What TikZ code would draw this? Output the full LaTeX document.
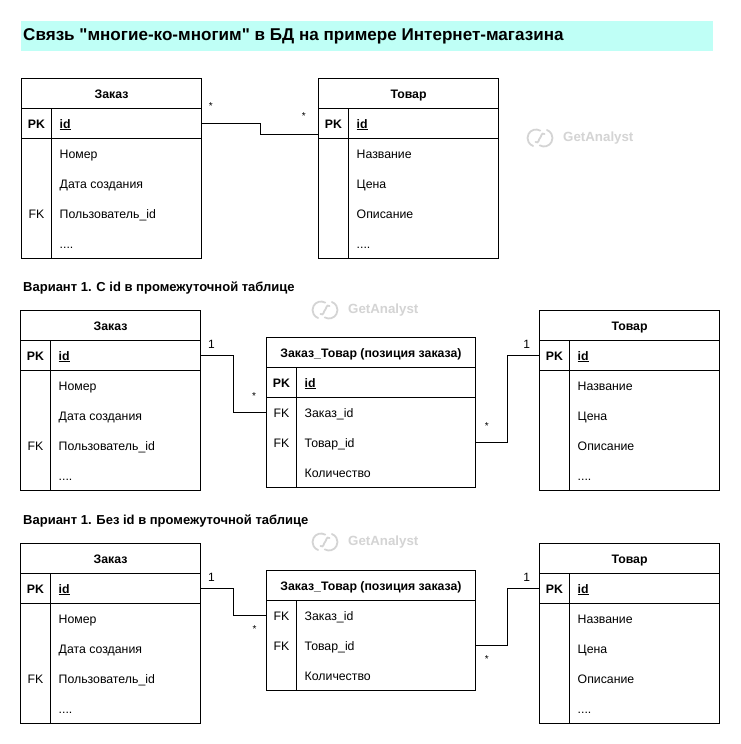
\documentclass[tikz,border=0pt]{standalone}
\usepackage{fontspec}
\setmainfont{Liberation Sans}
\newfontfamily\titlefont{Liberation Sans}
\usepackage{tikz}

\definecolor{titlefill}{HTML}{BFFFF6}
\definecolor{markgray}{HTML}{D4D4D4}

\newcommand{\pkkey}{\textbf{PK}}
\newcommand{\pkid}{\textbf{\underline{id}}}
\newcommand{\moredots}{....}

% name, x, y, width, height, rules, title, rows
\newcommand{\dbtable}[8]{
  \node [tablebox,minimum width=#4pt,minimum height=#5pt] (#1) at (#2,#3) {};
  \node [headcell] (#1-cap) at (#2+#4/2,#3+15) {#7};
  \foreach \rr in {#6} \draw [line width=1pt] (#2,#3+\rr) -- ++(#4,0);
  \draw [line width=1pt] (#2+30,#3+30) -- (#2+30,#3+#5);
  \foreach \kk/\vv [count=\i] in {#8} {
    \node [keycell] (#1-k\i) at (#2+15,#3+15+30*\i) {\kk};
    \node [textcell] (#1-t\i) at (#2+38,#3+15+30*\i) {\vv};
  }
}

% name, x, y of the left edge of the icon
\newcommand{\getmark}[3]{
  \draw [markgray,line width=1.8pt,line cap=round]
    (#2+9,#3) ++(-60:8.5) arc (-60:-250:8.5)
    (#2+17,#3) ++(120:8.5) arc (120:-70:8.5)
    (#2+8.5,#3+4) .. controls (#2+12,#3+6) and (#2+11.5,#3+1) .. (#2+13,#3)
    .. controls (#2+14.5,#3-1) and (#2+14,#3-6) .. (#2+17.5,#3-4);
  \node [markname] (#1) at (#2+36,#3) {GetAnalyst};
}

\begin{document}
\begin{tikzpicture}[x=1pt,y=-1pt,
    tablebox/.style={draw,line width=1pt,inner sep=0,outer sep=0,anchor=north west},
    headcell/.style={font=\fontsize{12.3}{14}\selectfont\bfseries,inner sep=0,text height=9pt,text depth=0pt},
    keycell/.style={font=\fontsize{12.3}{14}\selectfont,inner sep=0,text height=9pt,text depth=0pt},
    textcell/.style={font=\fontsize{12.3}{14}\selectfont,inner sep=0,text height=9pt,text depth=0pt,anchor=west},
    relation/.style={line width=1pt},
    onemark/.style={font=\fontsize{12}{14}\selectfont,inner sep=0},
    starmark/.style={font=\fontsize{10}{12}\selectfont,inner sep=0},
    sectionhead/.style={font=\fontsize{13}{14}\selectfont\bfseries,inner sep=0,text height=9pt,text depth=0pt,anchor=west},
    markname/.style={font=\fontsize{13.3}{14}\selectfont\bfseries,text=markgray,inner sep=0,anchor=west}]

  \useasboundingbox (0,0) rectangle (741,744);
  \fill [white] (0,0) rectangle (741,744);

  \node [fill=titlefill,minimum width=692pt,minimum height=30pt,inner sep=0,anchor=north west] (titlebar) at (21,20.5) {};
  \node [font=\titlefont\fontsize{17.07}{19}\selectfont\bfseries,inner sep=0,text height=12pt,text depth=0pt,anchor=west] (titletext) at (23,34.3) {Связь "многие-ко-многим" в БД на примере Интернет-магазина};

  \node [sectionhead] (variantwith) at (23,287) {Вариант 1. С id в промежуточной таблице};
  \node [sectionhead] (variantwithout) at (23,519.5) {Вариант 1. Без id в промежуточной таблице};

  \getmark{marktop}{527}{138}
  \getmark{markmid}{312}{310}
  \getmark{marklow}{312}{542}

  % first pair
  \dbtable{zakaztop}{21.5}{78.5}{180}{180}{30,60}{Заказ}{\pkkey/\pkid,/Номер,/Дата создания,FK/Пользователь\_id,/\moredots}
  \dbtable{tovartop}{318.5}{78.5}{180}{180}{30,60}{Товар}{\pkkey/\pkid,/Название,/Цена,/Описание,/\moredots}
  \coordinate (tovarin) at (318.5,134);
  \draw [relation] (zakaztop-t1 -| zakaztop.east) -- ++(58.5,0) |- (tovarin);
  \node [starmark] (startop) at (210.7,106.5) {*};
  \node [starmark] (startopb) at (303.7,116.5) {*};

  % with id
  \dbtable{zakazmid}{20.5}{310.5}{180}{180}{30,60}{Заказ}{\pkkey/\pkid,/Номер,/Дата создания,FK/Пользователь\_id,/\moredots}
  \dbtable{poziciamid}{266.5}{337.5}{209}{150}{30,60}{Заказ\_Товар (позиция заказа)}{\pkkey/\pkid,FK/Заказ\_id,FK/Товар\_id,/Количество}
  \dbtable{tovarmid}{539.5}{310.5}{180}{180}{30,60}{Товар}{\pkkey/\pkid,/Название,/Цена,/Описание,/\moredots}
  \draw [relation] (zakazmid-t1 -| zakazmid.east) -- ++(33,0) |- (poziciamid-t2 -| poziciamid.west);
  \draw [relation] (poziciamid-t3 -| poziciamid.east) -- ++(32,0) |- (tovarmid-t1 -| tovarmid.west);
  \node [onemark] (onemida) at (211.5,344) {1};
  \node [starmark] (starmida) at (254,396.5) {*};
  \node [starmark] (starmidb) at (486.7,426) {*};
  \node [onemark] (onemidb) at (526.7,344) {1};

  % without id
  \dbtable{zakazlow}{20.5}{543.5}{180}{180}{30,60}{Заказ}{\pkkey/\pkid,/Номер,/Дата создания,FK/Пользователь\_id,/\moredots}
  \dbtable{pozicialow}{266.5}{570.5}{209}{120}{30}{Заказ\_Товар (позиция заказа)}{FK/Заказ\_id,FK/Товар\_id,/Количество}
  \dbtable{tovarlow}{539.5}{543.5}{180}{180}{30,60}{Товар}{\pkkey/\pkid,/Название,/Цена,/Описание,/\moredots}
  \draw [relation] (zakazlow-t1 -| zakazlow.east) -- ++(33,0) |- (pozicialow-t1 -| pozicialow.west);
  \draw [relation] (pozicialow-t2 -| pozicialow.east) -- ++(32,0) |- (tovarlow-t1 -| tovarlow.west);
  \node [onemark] (onelowa) at (211.5,577) {1};
  \node [starmark] (starlowa) at (254.5,629.5) {*};
  \node [starmark] (starlowb) at (486.7,659) {*};
  \node [onemark] (onelowb) at (526.7,577) {1};
\end{tikzpicture}
\end{document}
